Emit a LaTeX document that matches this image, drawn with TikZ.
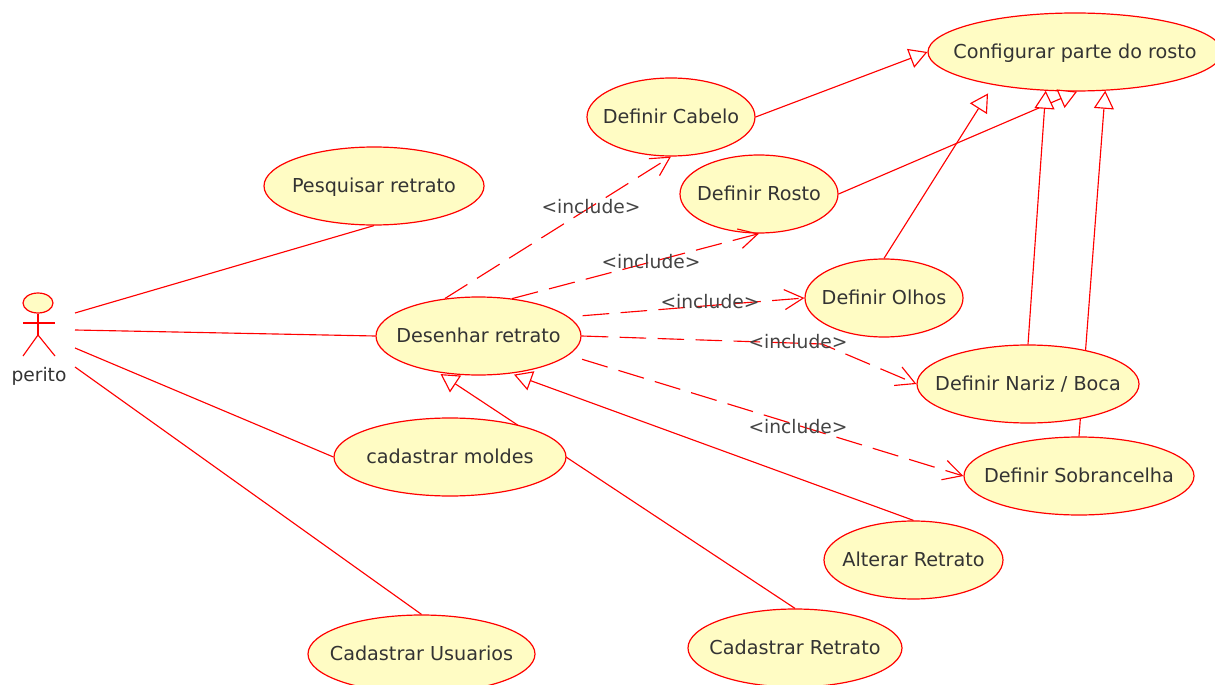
\documentclass[tikz,border=0pt]{standalone}
\usepackage{fontspec}
\setmainfont{DejaVu Sans}
\usetikzlibrary{shapes.geometric,arrows.meta,backgrounds}
\definecolor{ucfill}{HTML}{FFFCC4}
\definecolor{uctext}{HTML}{333333}
\definecolor{inclabel}{HTML}{444444}
\tikzset{
  x=0.75pt,y=-0.75pt,
  usecase/.style={ellipse,draw=red,fill=ucfill,line width=0.9pt,inner sep=0pt,text=uctext,font=\fontsize{14.4pt}{17pt}\selectfont},
  assoc/.style={draw=red,line width=0.85pt},
  gen/.style={draw=red,line width=0.85pt,-{Triangle[open,fill=white,length=13.5pt,width=15pt,line width=0.85pt]}},
  incl/.style={draw=red,line width=0.85pt,dash pattern=on 20pt off 8.5pt,-{Straight Barb[length=14pt,width=15pt,line width=0.85pt]}},
  inclab/.style={text=inclabel,font=\fontsize{14pt}{17pt}\selectfont,inner sep=0pt},
}
\newcommand{\uc}[6]{\node[usecase,minimum width=#3*1.5pt,minimum height=#4*1.5pt] (#5) at (#1,#2) {\makebox[0pt]{\vphantom{Agp}\raisebox{-0.75pt}[0pt][0pt]{#6}}};}
\begin{document}
\begin{tikzpicture}
\useasboundingbox (0,0) rectangle (1215,685);
\clip (0,0) rectangle (1215,685);
% use cases
\uc{1075}{52}{147}{39}{config}{Configurar parte do rosto}
\uc{671}{117}{84}{39}{cabelo}{Definir Cabelo}
\uc{759}{194}{79}{39}{rosto}{Definir Rosto}
\uc{374}{186}{110}{39}{pesquisar}{Pesquisar retrato}
\uc{884}{298}{79}{39}{olhos}{Definir Olhos}
\uc{478.5}{336}{102.5}{39}{desenhar}{Desenhar retrato}
\uc{1028}{384}{111}{39}{nariz}{Definir Nariz / Boca}
\uc{1079}{476}{115}{39}{sobr}{Definir Sobrancelha}
\uc{450}{457}{116}{39}{moldes}{cadastrar moldes}
\uc{913.5}{560}{89.5}{39}{alterar}{Alterar Retrato}
\uc{795}{648}{107}{39}{retrato}{Cadastrar Retrato}
\uc{421.5}{654}{113.5}{39}{usuarios}{Cadastrar Usuarios}
% actor
\node[ellipse,draw=red,fill=ucfill,line width=0.9pt,minimum width=22.5pt,minimum height=15pt,inner sep=0pt] (head) at (38,303) {};
\coordinate (hip) at (38,335);
\coordinate (armL) at (23,323);
\coordinate (armR) at (55,323);
\coordinate (legL) at (23,356);
\coordinate (legR) at (55,356);
\draw[assoc] (head.south) -- (hip);
\draw[assoc] (armL) -- (armR);
\draw[assoc] (legL) -- (hip) -- (legR);
\node[inclab,text=uctext] (perito) at (39,376) {perito};
\coordinate (a1) at (75,313);
\coordinate (a2) at (75,330);
\coordinate (a3) at (75,348);
\coordinate (a4) at (75,367);
% associations
\draw[assoc] (a1) -- (pesquisar.south);
\draw[assoc] (a2) -- (desenhar.west);
\draw[assoc] (a3) -- (moldes.west);
\draw[assoc] (a4) -- (usuarios.north);
% generalizations that pass behind other use cases
\begin{scope}[on background layer]
\draw[gen,shorten >=2.25pt] (retrato.north) -- (desenhar.222);
\draw[gen] (sobr.north) -- (config.-52);
\end{scope}
% generalizations
\draw[gen] (cabelo.east) -- (config.west);
\draw[gen] (rosto.east) -- (config.-87);
\draw[gen,shorten >=7.5pt] (olhos.north) -- (config.202);
\draw[gen] (nariz.north) -- (config.233);
\draw[gen,shorten >=2.25pt] (alterar.north) -- (desenhar.-49);
% includes
\coordinate (bend) at (822,344);
\draw[incl] (desenhar.132) -- (cabelo.south);
\draw[incl] (desenhar.48) -- (rosto.south);
\draw[incl,shorten <=10.5pt] (desenhar.12) -- (olhos.west);
\draw[incl] (desenhar.east) -- (bend) -- (nariz.west);
\draw[incl,shorten <=10.5pt] (desenhar.-12) -- (sobr.west);
% labels
\node[inclab] (l1) at (591,207) {<include>};
\node[inclab] (l2) at (651,262) {<include>};
\node[inclab] (l3) at (710,302) {<include>};
\node[inclab] (l4) at (798,342) {<include>};
\node[inclab] (l5) at (798,427) {<include>};
\end{tikzpicture}
\end{document}
